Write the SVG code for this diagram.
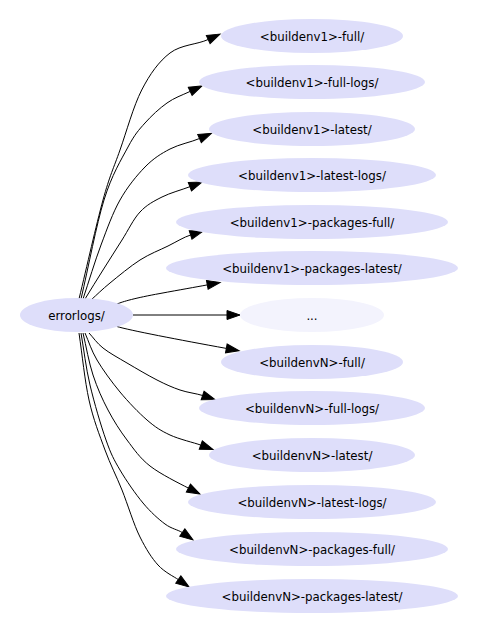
<svg xmlns="http://www.w3.org/2000/svg" width="479" height="631" viewBox="0 0 479 631">
<style>
.n ellipse{fill:#dedefa;stroke:none}
.n.dots ellipse{fill:#f3f3fd}
.n text{font-family:"DejaVu Sans",sans-serif;font-size:11.8px;fill:#000;text-anchor:middle}
.e path{fill:none;stroke:#000;stroke-width:1;marker-end:url(#ah)}
</style>
<defs>
<marker id="ah" markerUnits="userSpaceOnUse" orient="auto" markerWidth="14" markerHeight="10" refX="0" refY="5" viewBox="0 0 14 10" overflow="visible">
<path d="M0,0.5 L13,5 L0,9.5 z" fill="#000" stroke="#000" stroke-width="1"/>
</marker>
</defs>
<rect width="479" height="631" fill="#fff"/>
<g id="edges" class="e">
<path d="M79,299 C87,266 96.2,224.8 103,200 C109.8,175.2 113.6,168.3 120,150 C126.5,131.7 133.4,106.2 141.7,90 C150,73.8 159,61.4 170,53 C181,44.6 197.1,44.6 208.2,39.5"/>
<path d="M81,299 C88.7,266 96.2,225.3 104,200 C111.8,174.7 121.2,159.8 128,147 C134.8,134.2 138.5,130.3 145,123 C151.5,115.7 159.5,108.3 167,103 C174.5,97.7 181.1,95.6 190.2,91.4"/>
<path d="M83,299 C89,281 94.8,261.5 101,245 C107.2,228.5 112.7,213 120,200 C127.3,187 136.7,175.5 145,167 C153.3,158.5 160.9,153.75 170,149 C179.1,144.25 191.3,142.1 199.5,138.5"/>
<path d="M85,299 C91,289.3 96.8,279.8 103,270 C109.2,260.2 115.8,249.7 122,240 C128.2,230.3 133.3,219.2 140,212 C146.7,204.8 153.7,201.2 162,197 C170.3,192.8 181.5,189.9 189.9,186.7"/>
<path d="M91,300 C97.3,294.3 101.8,289.7 110,283 C118.2,276.3 130.3,266.2 140,260 C149.7,253.8 159.6,250.2 168,246 C176.4,241.8 183.9,237.1 190.6,235"/>
<path d="M117,304 C123,301.5 135,298 160,293.5 C180,289.8 196,287 207.3,284.9"/>
<path d="M133,315 L227,315"/>
<path d="M117,326.5 C128,330 180,340 226.3,348.4"/>
<path d="M89,333 C93.7,338 96.7,343 103,348 C109.3,353 118,357.7 127,363 C136,368.3 148.2,375.5 157,380 C165.8,384.5 172.4,387.4 180,390 C187.6,392.6 196.9,393.6 202.6,395.5"/>
<path d="M85,333 C89,342 91.2,350.2 97,360 C102.8,369.8 111.7,382 120,392 C128.3,402 138.7,412.8 147,420 C155.3,427.2 161,430.8 170,435 C179,439.2 194.2,442.7 200.8,445.1"/>
<path d="M83,333 C86.3,347 88.8,362.2 93,375 C97.2,387.8 102.3,399.2 108,410 C113.7,420.8 120,430.7 127,440 C134,449.3 139.8,458 150,466 C160.2,474 179.5,483.5 188.4,488.1"/>
<path d="M81,333 C84,350.3 85.8,367.2 90,385 C94.2,402.8 101,425.8 106,440 C111,454.2 113.8,459.5 120,470 C126.2,480.5 135.5,494 143,503 C150.5,512 158.4,519.1 165,524 C171.6,528.9 178.2,529.8 182.3,532.6"/>
<path d="M79,333 C82.3,355.3 84.7,380.5 89,400 C93.3,419.5 99.5,435 105,450 C110.5,465 116.2,475.5 122,490 C127.8,504.5 133.7,524.5 140,537 C146.3,549.5 151.6,557.9 158,565 C164.4,572.1 174.2,576.8 178.3,579.6"/>
</g>
<g id="errorlogs" class="n"><ellipse cx="76.5" cy="315" rx="56.5" ry="17"/><text x="76.5" y="319.5">errorlogs/</text></g>
<g id="b1-full" class="n"><ellipse cx="312" cy="36" rx="91" ry="17"/><text x="312" y="40.5">&lt;buildenv1&gt;-full/</text></g>
<g id="b1-full-logs" class="n"><ellipse cx="312" cy="82" rx="113" ry="17"/><text x="312" y="86.5">&lt;buildenv1&gt;-full-logs/</text></g>
<g id="b1-latest" class="n"><ellipse cx="312" cy="129" rx="103" ry="17"/><text x="312" y="133.5">&lt;buildenv1&gt;-latest/</text></g>
<g id="b1-latest-logs" class="n"><ellipse cx="312" cy="175" rx="124" ry="17"/><text x="312" y="179.5">&lt;buildenv1&gt;-latest-logs/</text></g>
<g id="b1-packages-full" class="n"><ellipse cx="312" cy="222" rx="136" ry="17"/><text x="312" y="226.5">&lt;buildenv1&gt;-packages-full/</text></g>
<g id="b1-packages-latest" class="n"><ellipse cx="312" cy="268" rx="146" ry="17"/><text x="312" y="272.5">&lt;buildenv1&gt;-packages-latest/</text></g>
<g id="dots" class="n dots"><ellipse cx="312" cy="315" rx="72" ry="17"/><text x="312" y="319.5">...</text></g>
<g id="bN-full" class="n"><ellipse cx="312" cy="362" rx="91" ry="17"/><text x="312" y="366.5">&lt;buildenvN&gt;-full/</text></g>
<g id="bN-full-logs" class="n"><ellipse cx="312" cy="408" rx="113" ry="17"/><text x="312" y="412.5">&lt;buildenvN&gt;-full-logs/</text></g>
<g id="bN-latest" class="n"><ellipse cx="312" cy="455" rx="103" ry="17"/><text x="312" y="459.5">&lt;buildenvN&gt;-latest/</text></g>
<g id="bN-latest-logs" class="n"><ellipse cx="312" cy="502" rx="124" ry="17"/><text x="312" y="506.5">&lt;buildenvN&gt;-latest-logs/</text></g>
<g id="bN-packages-full" class="n"><ellipse cx="312" cy="549" rx="136" ry="17"/><text x="312" y="553.5">&lt;buildenvN&gt;-packages-full/</text></g>
<g id="bN-packages-latest" class="n"><ellipse cx="312" cy="596" rx="146" ry="17"/><text x="312" y="600.5">&lt;buildenvN&gt;-packages-latest/</text></g>
</svg>
